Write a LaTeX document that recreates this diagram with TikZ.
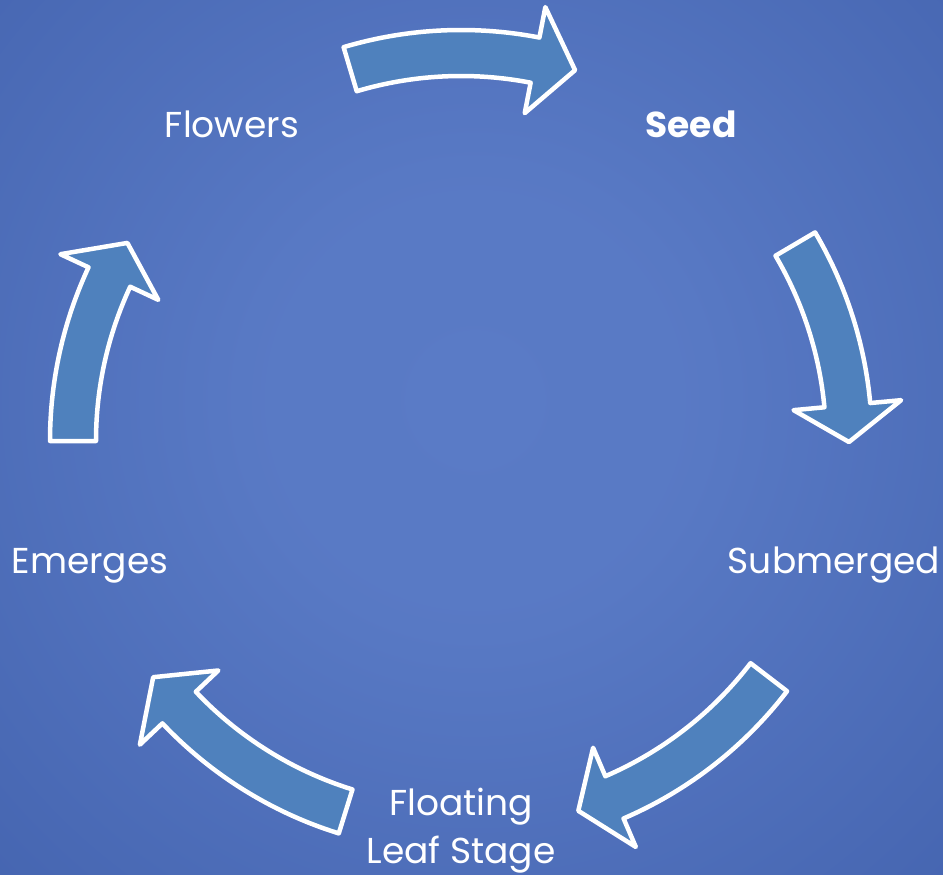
\documentclass[tikz,border=0pt]{standalone}
\usepackage{fontspec}
\setmainfont{Poppins}
\definecolor{bgin}{RGB}{90,123,198}
\definecolor{bgout}{RGB}{40,70,146}
\definecolor{arrowfill}{RGB}{79,129,189}
\pgfdeclareradialshading{bgshade}{\pgfpoint{0bp}{0bp}}{color(0bp)=(bgin); color(8bp)=(bgin!97!bgout); color(50bp)=(bgout)}
\tikzset{
  arrowbox/.style={fill=arrowfill, draw=white, line width=4.5pt, line join=round},
  label/.style={text=white, anchor=base, inner sep=0pt, font=\fontsize{36}{48}\selectfont, align=center},
}
\newcommand\cyclearrow[3]{%
  \draw[arrowbox] (-#1:365) arc[start angle=-#1, end angle=-#2, radius=365]
    -- (-#2:334) -- (-#3:388) -- (-#2:442) -- (-#2:411)
    arc[start angle=-#2, end angle=-#1, radius=411] -- cycle;}
\begin{document}
\begin{tikzpicture}[x=1pt, y=1pt]
  \useasboundingbox (0,0) rectangle (943,-875);
  \begin{scope}
    \clip (0,0) rectangle (943,-875);
    \shade[shading=bgshade] (-225,300) rectangle (1175,-1100);
  \end{scope}
  \begin{scope}[shift={(461,-441)}]
    \cyclearrow{253.4}{281}{287.1}
    \cyclearrow{329.5}{354.7}{360.15}
    \cyclearrow{37.5}{66.7}{72.4}
    \cyclearrow{107.3}{136.6}{142.5}
    \cyclearrow{180}{205}{210.7}
  \end{scope}
  \node[label, font=\fontsize{36}{48}\selectfont\bfseries] (seed) at (691,-137.5) {Seed};
  \node[label] (submerged) at (834,-573) {Submerged};
  \node[label] (floating) at (461,-863) {Floating\\Leaf Stage};
  \node[label] (emerges) at (90,-573) {Emerges};
  \node[label] (flowers) at (232,-137.5) {Flowers};
\end{tikzpicture}
\end{document}
